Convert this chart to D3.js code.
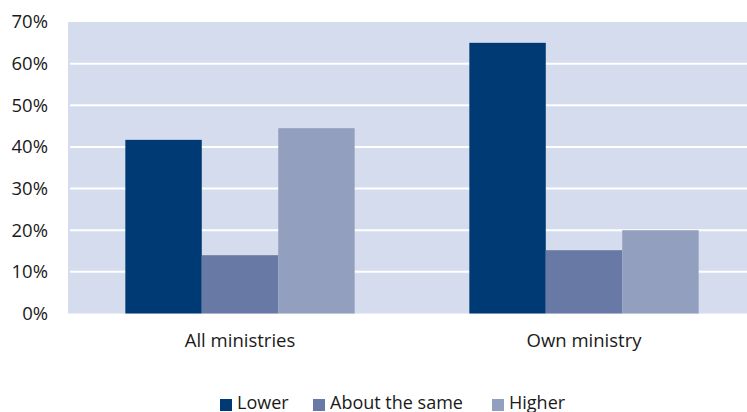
<!DOCTYPE html>
<html><head><meta charset="utf-8">
<script src="https://cdn.jsdelivr.net/npm/d3@7"></script>
<style>body{margin:0;background:#fff}svg{display:block}text{font-family:"Open Sans",sans-serif;fill:#1a1a1a}</style>
</head><body><svg id="c" width="747" height="412"></svg>
<script>
const categories = ["All ministries", "Own ministry"];
const seriesNames = ["Lower", "About the same", "Higher"];
const lower = [41.7, 65];
const aboutSame = [14, 15.2];
const higher = [44.5, 20];
const yTicks = [0, 10, 20, 30, 40, 50, 60, 70];
const colors = ["#003a74", "#6879a5", "#939fbf"];

const svg = d3.select("#c");
const L = 68, R = 756, T = 22, B = 313.5;
const x0 = d3.scaleBand().domain(categories).range([L, R]).paddingInner(0).paddingOuter(0);
const x1 = d3.scaleBand().domain(seriesNames).range([0, x0.bandwidth()]).paddingInner(0).paddingOuter(0.75);
const y = d3.scaleLinear().domain([0, 70]).range([B, T]);

svg.append("rect").attr("x", L).attr("y", T).attr("width", R - L).attr("height", B - T).attr("fill", "#d5dcee");

svg.append("g").selectAll("line").data(yTicks.filter(d => d > 0 && d < 70)).join("line")
  .attr("x1", L + 2).attr("x2", R).attr("y1", d => y(d)).attr("y2", d => y(d))
  .attr("stroke", "#fff").attr("stroke-width", 2);

const data = categories.map((c, i) => ({c, vals: [lower[i], aboutSame[i], higher[i]]}));
svg.append("g").selectAll("g").data(data).join("g")
  .attr("transform", d => `translate(${x0(d.c)},0)`)
  .selectAll("rect").data(d => d.vals.map((v, j) => ({v, s: seriesNames[j], j}))).join("rect")
  .attr("x", d => x1(d.s)).attr("width", x1.bandwidth())
  .attr("y", d => y(d.v)).attr("height", d => B - y(d.v))
  .attr("fill", d => colors[d.j]);

const yAxis = d3.axisLeft(y).tickValues(yTicks).tickFormat(d => d + "%").tickSize(0).tickPadding(0);
const ya = svg.append("g").attr("transform", "translate(48,0)").call(yAxis);
ya.select(".domain").remove();
ya.selectAll("text").attr("font-size", 18.5).attr("font-family", "Open Sans").attr("fill", "#1a1a1a");

const xAxis = d3.axisBottom(x0).tickSize(0).tickPadding(0);
const xa = svg.append("g").attr("transform", `translate(0,${B + 20})`).call(xAxis);
xa.select(".domain").remove();
xa.selectAll("text").attr("font-size", 18.5).attr("font-family", "Open Sans").attr("fill", "#1a1a1a");

const legX = [220, 313, 492];
const lg = svg.append("g").selectAll("g").data(seriesNames).join("g")
  .attr("transform", (d, i) => `translate(${legX[i]},0)`);
lg.append("rect").attr("x", 0).attr("y", 399).attr("width", 12).attr("height", 12).attr("fill", (d, i) => colors[i]);
lg.append("text").attr("x", 17).attr("y", 408.5).attr("font-size", 18).text(d => d);
</script></body></html>
